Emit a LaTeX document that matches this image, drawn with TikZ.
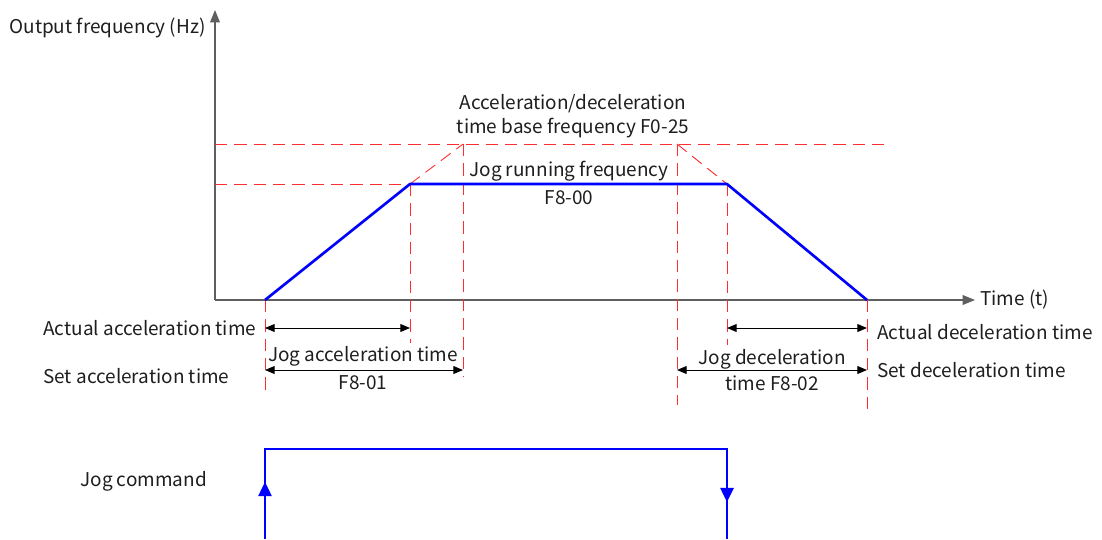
\documentclass[tikz,border=0pt]{standalone}
\usepackage{fontspec}
\setmainfont{Noto Sans CJK SC}
\usetikzlibrary{arrows.meta}
\definecolor{CurveBlue}{RGB}{0,0,255}
\definecolor{GuideRed}{RGB}{255,45,45}
\definecolor{AxisGray}{RGB}{95,95,95}
\definecolor{TxtGray}{RGB}{30,30,30}
\tikzset{
  ax/.style={draw=AxisGray, line width=0.8pt,
    -{Triangle[length=7pt,width=5.5pt]}},
  curve/.style={draw=CurveBlue, line width=1.5pt},
  guide/.style={draw=GuideRed, line width=0.5pt,
    dash pattern=on 7pt off 4pt},
  dim/.style={draw=black, line width=0.5pt,
    {Triangle[length=5.5pt,width=4.5pt]}-{Triangle[length=5.5pt,width=4.5pt]}},
  jogarr/.style={curve, -{Triangle[length=8pt,width=7.5pt]}},
  lbl/.style={font=\fontsize{10.8}{13.6}\selectfont, inner sep=0pt,
    text=TxtGray, align=center},
  lbl_l/.style={lbl, anchor=west},
}

\begin{document}
\begin{tikzpicture}[x=0.02cm,y=-0.02cm]

\useasboundingbox (0,0) rectangle (1102,539);

%% axes
\coordinate (O)    at (215,300);
\coordinate (Ytop) at (215,10);
\coordinate (Xend) at (975,300);
\draw[ax] (O)--(Ytop);
\draw[ax] (O)--(Xend);
\node[lbl, anchor=east] (ylab) at (206,28) {Output frequency (Hz)};
\node[lbl_l] (xlab) at (980,300) {Time (t)};

%% corner points
\coordinate (A)  at (265,300);
\coordinate (B)  at (410,184);
\coordinate (C)  at (727,184);
\coordinate (D)  at (867,300);
\coordinate (Bs) at (463,144);
\coordinate (Cs) at (677,144);

%% red guides
\coordinate (Hs0) at (215,144); \coordinate (Hs1) at (885,144);
\coordinate (Hj0) at (215,184);
\draw[guide] (Hs0)--(Hs1);
\draw[guide] (Hj0)--(B);
\draw[guide] (B)--(Bs);
\draw[guide] (Cs)--(C);
\draw[guide] (A)--(265,390);
\draw[guide] (B)--(410,343);
\draw[guide] (Bs)--(463,376);
\draw[guide] (Cs)--(677,405);
\draw[guide] (C)--(727,345);
\draw[guide] (D)--(867,413);

%% jog curve
\draw[curve, line join=round] (A)--(B)--(C)--(D);

%% time spans
\coordinate (aa0) at (265,328); \coordinate (aa1) at (410,328);
\coordinate (sa0) at (265,370); \coordinate (sa1) at (463,370);
\coordinate (ad0) at (727,328); \coordinate (ad1) at (867,328);
\coordinate (sd0) at (677,370); \coordinate (sd1) at (867,370);
\draw[dim] (aa0)--(aa1);
\draw[dim] (sa0)--(sa1);
\draw[dim] (ad0)--(ad1);
\draw[dim] (sd0)--(sd1);

%% labels
\node[lbl] (basef) at (573,116)
  {Acceleration/deceleration\\time base frequency F0-25};
\node[lbl] (jogf)  at (569,183) {Jog running frequency\\[2pt]F8-00};
\node[lbl_l] (aacc) at (43,328) {Actual acceleration time};
\node[lbl_l] (sacc) at (43,376) {Set acceleration time};
\node[lbl] (jacc)  at (363,368) {Jog acceleration time\\[2pt]F8-01};
\node[lbl_l] (adec) at (877,332) {Actual deceleration time};
\node[lbl_l] (sdec) at (877,370) {Set deceleration time};
\node[lbl] (jdec)  at (772,370) {Jog deceleration\\[1pt]time F8-02};

%% jog command
\coordinate (J0) at (265,539); \coordinate (J1) at (265,449);
\coordinate (J2) at (727,449); \coordinate (J3) at (727,539);
\coordinate (Jup) at (265,482); \coordinate (Jdn) at (727,502);
\draw[curve, line width=1.2pt] (J0)--(J1)--(J2)--(J3);
\draw[jogarr, line width=1.2pt] (J0)--(Jup);
\draw[jogarr, line width=1.2pt] (J2)--(Jdn);
\node[lbl_l] (jcmd) at (80,481) {Jog command};

\end{tikzpicture}
\end{document}
